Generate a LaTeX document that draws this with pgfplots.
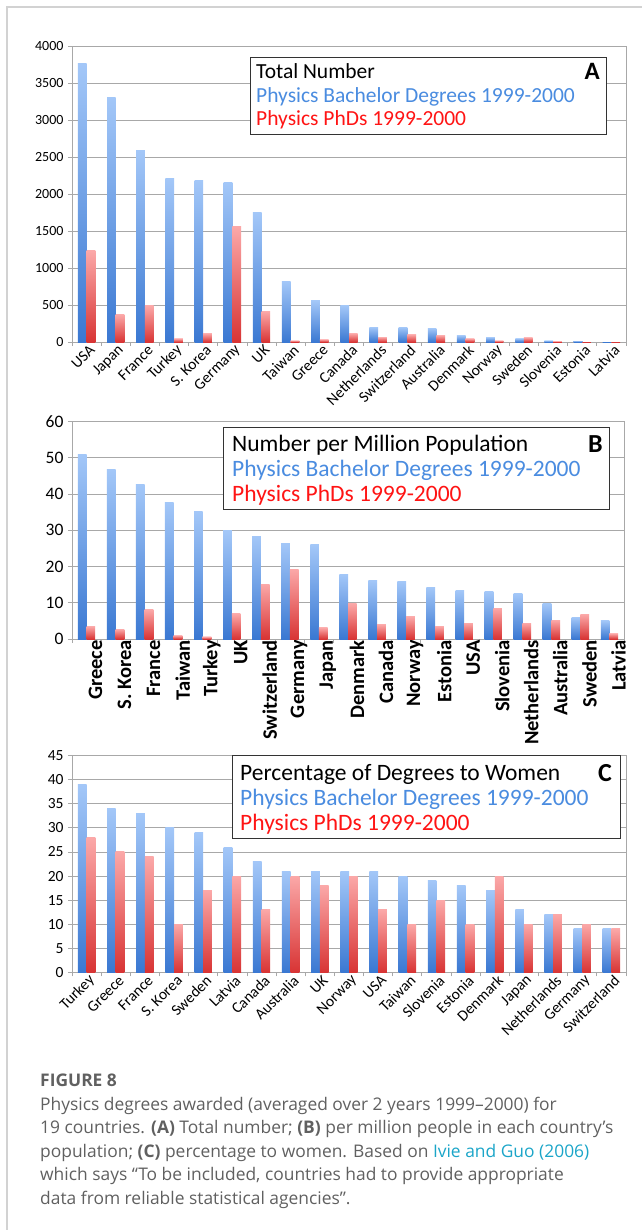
\documentclass[border=0pt]{standalone}
\usepackage{pgfplots}
\pgfplotsset{compat=1.18}
\usepackage{pgfplotstable}
\usepackage{fontspec}
\setmainfont{Carlito}
\newfontfamily\capfont{Open Sans}

\definecolor{bluetop}{HTML}{A3C7F8}
\definecolor{bluebot}{HTML}{3A78D2}
\definecolor{redtop}{HTML}{FBA8A8}
\definecolor{redbot}{HTML}{D83434}
\definecolor{legblue}{HTML}{4A8CE0}
\definecolor{legred}{HTML}{FF1414}
\definecolor{gridgray}{HTML}{A8A8A8}
\definecolor{framegray}{HTML}{D2D2D2}
\definecolor{capgray}{HTML}{606060}
\definecolor{linkcyan}{HTML}{1BA5C8}

% (A) total number of degrees
\pgfplotstableread[col sep=comma]{
x,bach,phd
0,3760,1230
1,3310,370
2,2590,490
3,2210,45
4,2180,115
5,2160,1560
6,1745,410
7,820,20
8,555,35
9,495,115
10,200,65
11,200,100
12,185,90
13,90,45
14,65,20
15,48,60
16,20,12
17,18,3
18,5,2
}\totalnum

% (B) per million population
\pgfplotstableread[col sep=comma]{
x,bach,phd
0,51.0,3.5
1,46.8,2.7
2,42.6,8.1
3,37.7,1.0
4,35.1,0.6
5,29.8,6.9
6,28.4,15.1
7,26.4,19.3
8,26.0,3.1
9,17.9,9.8
10,16.2,4.0
11,15.9,6.1
12,14.3,3.5
13,13.4,4.4
14,13.0,8.5
15,12.6,4.4
16,9.8,5.2
17,6.0,6.8
18,5.1,1.5
}\permillion

% (C) percentage of degrees to women
\pgfplotstableread[col sep=comma]{
x,bach,phd
0,39,28
1,34,25
2,33,24
3,30,10
4,29,17
5,26,20
6,23,13
7,21,20
8,21,18
9,21,20
10,21,13
11,20,10
12,19,15
13,18,10
14,17,20
15,13,10
16,12,12
17,9,10
18,9,9
}\women

\pgfplotsset{
  panel/.style={
    scale only axis, anchor=south west,
    xmin=-0.5, xmax=18.5, ymin=0,
    bar width=8.7pt,
    axis line style={gridgray, line width=0.9pt},
    ymajorgrids, grid style={gridgray, line width=0.9pt},
    tick align=outside, xtick pos=bottom, ytick pos=left,
    major tick length=4pt, tick style={gridgray, line width=0.9pt},
    xtick={-0.5,0.5,...,18.5}, xticklabels={},
    extra x ticks={0,...,18},
    /pgf/number format/assume math mode=true,
    /pgf/number format/1000 sep={},
    yticklabel style={font=\fontsize{14}{15}\selectfont, black, xshift=-1pt},
  },
  bachbar/.style={ybar, draw=none, bar shift=-4.35pt, top color=bluetop, bottom color=bluebot},
  phdbar/.style={ybar, draw=none, bar shift=4.35pt, top color=redtop, bottom color=redbot},
  slanted/.style={extra x tick style={major tick length=0pt,
      xticklabel style={rotate=45, anchor=east, font=\fontsize{15.5}{16}\selectfont, inner sep=1pt, xshift=1pt, yshift=-8pt}}},
}

% one bar per plot, so that every bar carries its own gradient
\newcommand\barsfrom[1]{%
  \pgfplotsinvokeforeach{0,...,18}{%
    \pgfplotstablegetelem{##1}{bach}\of#1\let\vb\pgfplotsretval
    \pgfplotstablegetelem{##1}{phd}\of#1\let\vp\pgfplotsretval
    \edef\barcmd{%
      \noexpand\addplot[bachbar] coordinates {(##1,\vb)};
      \noexpand\addplot[phdbar] coordinates {(##1,\vp)};}%
    \barcmd}}

\begin{document}
\begin{tikzpicture}
\path[use as bounding box] (0pt,0pt) rectangle (642pt,-1230pt);
\draw[framegray, line width=1.2pt] (7pt,-1230pt) -- (7pt,-7pt) -- (642pt,-7pt);

% ---------------- (A) ----------------
\begin{axis}[panel, slanted, at={(72pt,-342pt)}, width=554pt, height=296pt,
  ymax=4000, ytick={0,500,...,4000},
  extra x tick labels={USA,Japan,France,Turkey,S. Korea,Germany,UK,Taiwan,Greece,Canada,Netherlands,Switzerland,Australia,Denmark,Norway,Sweden,Slovenia,Estonia,Latvia}]
\barsfrom{\totalnum}
\end{axis}
\begin{scope}[every node/.style={anchor=base west, inner sep=0pt, font=\fontsize{21.5}{23}\selectfont}]
\draw[fill=white, draw=black!80, line width=0.9pt] (250pt,-57pt) rectangle (606pt,-134pt);
\node at (256pt,-79pt) {Total Number};
\node[text=legblue] at (256pt,-103pt) {Physics Bachelor Degrees 1999-2000};
\node[text=legred] at (256pt,-126pt) {Physics PhDs 1999-2000};
\node[anchor=base east, font=\fontsize{25}{27}\selectfont\bfseries] at (600pt,-80pt) {A};
\end{scope}

% ---------------- (B) ----------------
\begin{axis}[panel, at={(72pt,-639pt)}, width=552pt, height=217.5pt,
  ymax=60, ytick={0,10,...,60},
  yticklabel style={font=\fontsize{17.5}{18}\selectfont},
  extra x tick style={major tick length=0pt,
      xticklabel style={rotate=90, anchor=east, font=\fontsize{20.5}{22}\selectfont\bfseries, inner sep=1pt, yshift=-9pt}},
  extra x tick labels={Greece,S. Korea,France,Taiwan,Turkey,UK,Switzerland,Germany,Japan,Denmark,Canada,Norway,Estonia,USA,Slovenia,Netherlands,Australia,Sweden,Latvia}]
\barsfrom{\permillion}
\end{axis}
\begin{scope}[every node/.style={anchor=base west, inner sep=0pt, font=\fontsize{23.5}{25}\selectfont}]
\draw[fill=white, draw=black!80, line width=0.9pt] (223pt,-427pt) rectangle (609pt,-509pt);
\node at (232pt,-451pt) {Number per Million Population};
\node[text=legblue] at (232pt,-476pt) {Physics Bachelor Degrees 1999-2000};
\node[text=legred] at (232pt,-501pt) {Physics PhDs 1999-2000};
\node[anchor=base east, font=\fontsize{26}{28}\selectfont\bfseries] at (603pt,-452pt) {B};
\end{scope}

% ---------------- (C) ----------------
\begin{axis}[panel, slanted, at={(72pt,-972.3pt)}, width=554pt, height=216.6pt,
  ymax=45, ytick={0,5,...,45},
  yticklabel style={font=\fontsize{15.5}{16}\selectfont},
  extra x tick labels={Turkey,Greece,France,S. Korea,Sweden,Latvia,Canada,Australia,UK,Norway,USA,Taiwan,Slovenia,Estonia,Denmark,Japan,Netherlands,Germany,Switzerland}]
\barsfrom{\women}
\end{axis}
\begin{scope}[every node/.style={anchor=base west, inner sep=0pt, font=\fontsize{23.5}{25}\selectfont}]
\draw[fill=white, draw=black!80, line width=0.9pt] (232pt,-755pt) rectangle (620pt,-838pt);
\node at (240pt,-780pt) {Percentage of Degrees to Women};
\node[text=legblue] at (240pt,-805pt) {Physics Bachelor Degrees 1999-2000};
\node[text=legred] at (240pt,-830pt) {Physics PhDs 1999-2000};
\node[anchor=base east, font=\fontsize{26}{28}\selectfont\bfseries] at (612pt,-781pt) {C};
\end{scope}

% ---------------- caption ----------------
\begin{scope}[every node/.style={anchor=base west, inner sep=0pt, text=capgray, font=\capfont\fontsize{17.4}{20}\selectfont}]
\node at (40pt,-1086pt) {\bfseries FIGURE 8};
\node at (40pt,-1110pt) {Physics degrees awarded (averaged over 2 years 1999–2000) for};
\node at (40pt,-1133.5pt) {19 countries. \textbf{(A)} Total number; \textbf{(B)} per million people in each country’s};
\node at (40pt,-1157pt) {population; \textbf{(C)} percentage to women. Based on \textcolor{linkcyan}{Ivie and Guo (2006)}};
\node at (40pt,-1180.5pt) {which says “To be included, countries had to provide appropriate};
\node at (40pt,-1204pt) {data from reliable statistical agencies”.};
\end{scope}
\end{tikzpicture}
\end{document}
